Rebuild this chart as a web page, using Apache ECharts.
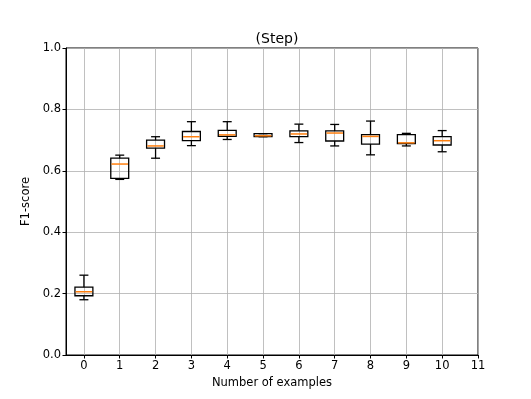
<!DOCTYPE html>
<html>
<head>
<meta charset="utf-8">
<script src="https://cdn.jsdelivr.net/npm/echarts@6/dist/echarts.min.js"></script>
<style>
  html, body { margin: 0; padding: 0; background: #fff; }
  #chart { width: 531px; height: 399px; }
</style>
</head>
<body>
<div id="chart"></div>
<script>
// number of examples on the x axis
var examples = [0, 1, 2, 3, 4, 5, 6, 7, 8, 9, 10];
var xTicks = [0, 1, 2, 3, 4, 5, 6, 7, 8, 9, 10, 11];

// box stats
var whiskerLow = [0.180, 0.572, 0.641, 0.682, 0.702, 0.711, 0.692, 0.681, 0.652, 0.681, 0.662];
var q1         = [0.193, 0.575, 0.674, 0.698, 0.712, 0.711, 0.711, 0.697, 0.687, 0.689, 0.684];
var medians    = [0.206, 0.622, 0.681, 0.711, 0.717, 0.714, 0.720, 0.723, 0.712, 0.691, 0.698];
var q3         = [0.221, 0.641, 0.700, 0.728, 0.732, 0.721, 0.730, 0.730, 0.718, 0.718, 0.711];
var whiskerHigh= [0.260, 0.651, 0.711, 0.760, 0.760, 0.721, 0.752, 0.751, 0.762, 0.722, 0.731];

var boxData = examples.map(function (x, i) {
    return [x, whiskerLow[i], q1[i], medians[i], q3[i], whiskerHigh[i]];
});

var font = 'DejaVu Sans';

function renderBox(params, api) {
    var x = api.value(0);
    var pLo = api.coord([x, api.value(1)]);
    var pQ1 = api.coord([x, api.value(2)]);
    var pMed = api.coord([x, api.value(3)]);
    var pQ3 = api.coord([x, api.value(4)]);
    var pHi = api.coord([x, api.value(5)]);
    var w = api.size([0.5, 0])[0];
    var cx = pMed[0];
    var line = function (x1, y1, x2, y2, color) {
        return {
            type: 'line',
            shape: {x1: x1, y1: y1, x2: x2, y2: y2},
            style: {stroke: color || '#000', lineWidth: color ? 1.5 : 1.3}
        };
    };
    return {
        type: 'group',
        children: [
            line(cx, pLo[1], cx, pQ1[1]),
            line(cx, pQ3[1], cx, pHi[1]),
            line(cx - w / 4, pLo[1], cx + w / 4, pLo[1]),
            line(cx - w / 4, pHi[1], cx + w / 4, pHi[1]),
            {
                type: 'rect',
                shape: {x: cx - w / 2, y: pQ3[1], width: w, height: pQ1[1] - pQ3[1]},
                style: {fill: 'none', stroke: '#000', lineWidth: 1.3}
            },
            line(cx - w / 2 + 0.7, pMed[1], cx + w / 2 - 0.7, pMed[1], '#ff7f0e')
        ]
    };
}

var myChart = echarts.init(document.getElementById('chart'));
myChart.setOption({
    animation: false,
    backgroundColor: '#fff',
    title: {
        text: '(Step)',
        left: 272,
        top: 27,
        textAlign: 'center',
        textStyle: {fontFamily: font, fontSize: 14, fontWeight: 'normal', color: '#000'}
    },
    grid: {
        left: 66, right: 53, top: 48, bottom: 44,
        show: true, borderColor: '#000', borderWidth: 1
    },
    xAxis: {
        type: 'value',
        min: -0.5,
        max: 11,
        name: 'Number of examples',
        nameLocation: 'middle',
        nameGap: 21,
        nameTextStyle: {fontFamily: font, fontSize: 11.5, color: '#000'},
        axisLine: {show: true, onZero: false, lineStyle: {color: '#000', width: 1}},
        axisTick: {show: true, inside: false, length: 3.5, customValues: xTicks, lineStyle: {color: '#000'}},
        axisLabel: {customValues: xTicks, margin: 5, fontFamily: font, fontSize: 11.5, color: '#000'},
        splitLine: {show: true, lineStyle: {color: '#b0b0b0', width: 0.8}}
    },
    yAxis: {
        type: 'value',
        min: 0,
        max: 1,
        interval: 0.2,
        name: 'F1-score',
        nameLocation: 'middle',
        nameGap: 26,
        nameTextStyle: {fontFamily: font, fontSize: 11.5, color: '#000'},
        axisLine: {show: true, onZero: false, lineStyle: {color: '#000', width: 1}},
        axisTick: {show: true, length: 3.5, lineStyle: {color: '#000'}},
        axisLabel: {
            margin: 5, fontFamily: font, fontSize: 11.5, color: '#000',
            formatter: function (v) { return v.toFixed(1); }
        },
        splitLine: {show: true, lineStyle: {color: '#b0b0b0', width: 0.8}}
    },
    series: [{
        type: 'custom',
        renderItem: renderBox,
        encode: {x: 0, y: [1, 2, 3, 4, 5]},
        data: boxData,
        clip: false
    }]
});
</script>
</body>
</html>
